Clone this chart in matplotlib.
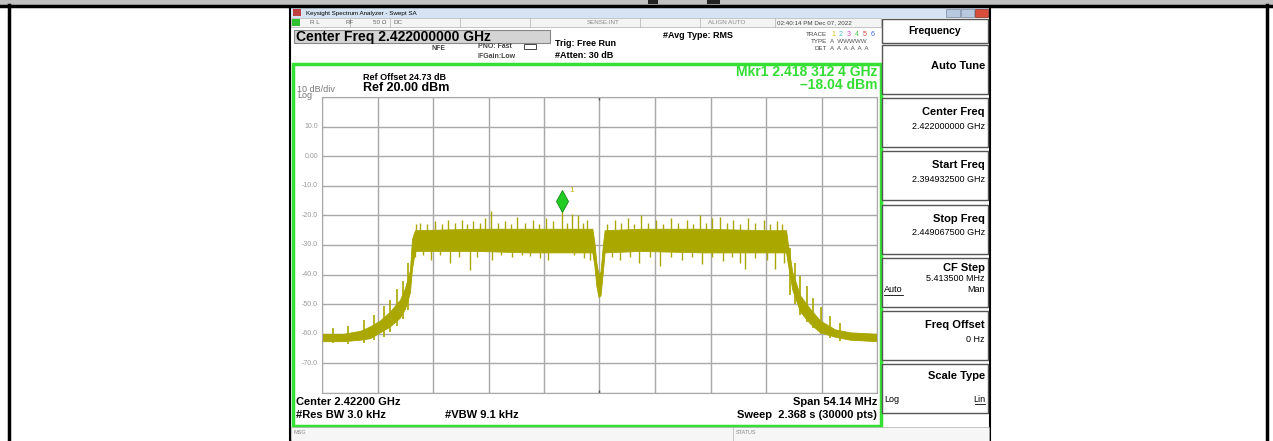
import matplotlib.pyplot as plt
from matplotlib.patches import Rectangle

plt.rcParams['font.family'] = ['Liberation Sans', 'DejaVu Sans']

# trace envelope (GHz, dBm)
env_freq = [2.39493, 2.39700, 2.39864, 2.39961, 2.40059, 2.40156, 2.40254, 2.40303,
            2.40351, 2.40371, 2.40400, 2.41000, 2.41500, 2.42130, 2.42150, 2.42170,
            2.42190, 2.42210, 2.42230, 2.42250, 2.42600, 2.43200, 2.43800, 2.44020,
            2.44035, 2.44080, 2.44156, 2.44253, 2.44351, 2.44497, 2.44644, 2.44907]
env_low = [-62.5, -62.5, -62, -61.5, -59.5, -57.5, -54.5, -51.5,
           -46, -38, -32, -32, -32.5, -32.5, -37, -44,
           -47.5, -47, -40, -32.5, -32, -32.5, -32.5, -32.5,
           -36, -45, -52.5, -56.5, -59.5, -61, -62, -62.5]
env_high = [-60, -60, -59, -57.5, -55.5, -52.5, -48.5, -44.5,
            -38.5, -28, -25, -24.5, -24.5, -24.5, -29, -36,
            -40, -39, -31, -25, -24.5, -24.5, -25, -25,
            -29, -39, -47, -51.5, -55.5, -58.5, -59.5, -60]

# noise spikes above / below the band
up_freq = [2.4041, 2.4045, 2.4052, 2.4060, 2.4066, 2.4072, 2.4079, 2.4086, 2.4091, 2.4097,
           2.4103, 2.4108, 2.4114, 2.4121, 2.4128, 2.4134, 2.4140, 2.4147, 2.4155, 2.4161,
           2.4168, 2.4175, 2.41831, 2.4188, 2.4193, 2.4199, 2.4204, 2.4208, 2.4227, 2.4235,
           2.4241, 2.4248, 2.4254, 2.4260, 2.4267, 2.4275, 2.4282, 2.4290, 2.4297, 2.4305,
           2.4311, 2.4318, 2.4324, 2.4330, 2.4338, 2.4344, 2.4350, 2.4357, 2.4365, 2.4372,
           2.4380, 2.4386, 2.4393, 2.4398]
up_level = [-23, -22.5, -23, -22, -23, -21.5, -22.5, -21.5, -23, -22,
            -22.5, -20.9, -18.5, -22.5, -22, -23, -20.7, -22.5, -21.5, -23,
            -21, -22, -18.04, -22.5, -19.5, -20, -22.5, -21.5, -23, -21.5,
            -22.5, -21, -23, -20, -22.5, -21.5, -23, -21, -22.5, -21.5,
            -23, -20, -22.5, -21, -20.5, -22.5, -21.5, -23, -21, -22.5,
            -21.5, -23, -22, -23]
dn_freq = [2.4040, 2.4048, 2.4056, 2.4064, 2.4074, 2.4083, 2.4094, 2.4101, 2.4115, 2.4124,
           2.4135, 2.4144, 2.4152, 2.4162, 2.4170, 2.4183, 2.4195, 2.4205, 2.4211, 2.4232,
           2.4240, 2.4250, 2.4259, 2.4269, 2.4279, 2.4290, 2.4300, 2.4310, 2.4320, 2.4330,
           2.4340, 2.4349, 2.4357, 2.4362, 2.4372, 2.4383, 2.4391, 2.4400]
dn_level = [-34, -33.5, -35, -33.5, -36, -34, -38.4, -34, -35, -33.5,
            -34, -33.5, -33.8, -34.5, -35, -32, -33.5, -34.5, -35, -34,
            -35, -34, -36, -34, -37, -34, -35, -34, -36.5, -34,
            -35.5, -34, -36, -38, -34.5, -35, -38, -36]

# ragged edges on the skirts (GHz, top, bottom)
sk_freq = [2.3960, 2.3975, 2.3990, 2.4000, 2.4010, 2.4016, 2.4022, 2.4028, 2.4033,
           2.4406, 2.4411, 2.4416, 2.4422, 2.4428, 2.4436, 2.4445, 2.4455]
sk_top = [-58, -57.5, -55.5, -53.5, -50.5, -48.5, -45, -42, -36,
          -31, -36, -40.5, -44, -48, -51, -54, -56.5]
sk_bot = [-63, -63.5, -63, -62, -61, -59.5, -57.5, -55, -52,
          -47, -50, -53.5, -56, -58, -60, -61.5, -62.5]

mkr_freq = 2.4183124
mkr_level = -18.04

ref_level = 20
y_ticks = [10, 0, -10, -20, -30, -40, -50, -60, -70]
y_tick_labels = ['10.0', '0.00', '-10.0', '-20.0', '-30.0', '-40.0', '-50.0', '-60.0', '-70.0']
f_start, f_stop = 2.3949325, 2.4490675

softkeys = [('Auto Tune', None), ('Center Freq', '2.422000000 GHz'),
            ('Start Freq', '2.394932500 GHz'), ('Stop Freq', '2.449067500 GHz'),
            ('CF Step', '5.413500 MHz'), ('Freq Offset', '0 Hz'), ('Scale Type', None)]

W, H = 1273, 441
fig = plt.figure(figsize=(W / 100, H / 100), dpi=100)
bg = fig.add_axes([0, 0, 1, 1])
bg.set_xlim(0, W)
bg.set_ylim(H, 0)
bg.axis('off')


def rect(x0, y0, x1, y1, fc='none', ec='none', lw=1.0, z=1):
    bg.add_patch(Rectangle((x0, y0), x1 - x0, y1 - y0, facecolor=fc, edgecolor=ec, linewidth=lw, zorder=z))


def txt(x, y, s, size=7, weight='normal', color='black', ha='left', va='center'):
    bg.text(x, y, s, fontsize=size, fontweight=weight, color=color, ha=ha, va=va, zorder=5)


# page frame
rect(0, 0, W, 5, fc='#c0c0c0')
bg.plot([0, W], [5.5, 5.5], color='black', lw=2.5)
bg.plot([8.5, 8.5], [5, H], color='black', lw=2.5)
bg.plot([1266.5, 1266.5], [5, H], color='black', lw=2.5)
rect(648, 0, 658, 4, fc='#222222')
rect(707, 0, 720, 4, fc='#222222')

# instrument screen
rect(290, 7, 990, H, fc='white', ec='black', lw=1.5)
rect(291, 8, 989, 18, fc='#d6e3f3')
rect(293, 9, 301, 16, fc='#c04040')
txt(306, 13, 'Keysight Spectrum Analyzer - Swept SA', size=4.5)
rect(946, 9, 960, 17, fc='#b8c8de', ec='#7a8aa0', lw=0.5)
rect(961, 9, 974, 17, fc='#b8c8de', ec='#7a8aa0', lw=0.5)
rect(975, 9, 988, 17, fc='#d84c3c', ec='#8a3020', lw=0.5)
rect(291, 18, 881, 27, fc='#f4f4f4', ec='#b0b0b0', lw=0.5)
rect(292, 19, 300, 26, fc='#30c030')
for xd in [350, 390, 460, 530, 640, 700, 775]:
    bg.plot([xd, xd], [18, 27], color='#b0b0b0', lw=0.5)
txt(310, 22.5, 'R L', size=4.5, color='#666666')
txt(345, 22.5, 'RF', size=4.5, color='#666666')
txt(373, 22.5, '50 Ω', size=4.5, color='#666666')
txt(394, 22.5, 'DC', size=4.5, color='#666666')
txt(587, 22.5, 'SENSE:INT', size=4.5, color='#888888')
txt(708, 22.5, 'ALIGN AUTO', size=4.5, color='#888888')
txt(777, 22.5, '02:40:14 PM Dec 07, 2022', size=4.5, color='#444444')

rect(294, 30, 550, 43, fc='#d4d4d4', ec='#888888', lw=0.8)
txt(296, 36.5, 'Center Freq 2.422000000 GHz', size=10, weight='bold')
txt(432, 48, 'NFE', size=5, weight='bold', color='#444444')
txt(478, 47, 'PNO: Fast', size=5, weight='bold', color='#444444')
rect(524, 44, 536, 49, ec='#444444', lw=0.7)
txt(477, 57, 'IFGain:Low', size=5, weight='bold', color='#444444')
txt(555, 44, 'Trig: Free Run', size=6.5, weight='bold')
txt(555, 55, '#Atten: 30 dB', size=6.5, weight='bold')
txt(663, 35, '#Avg Type: RMS', size=6.5, weight='bold')
txt(827, 34, 'TRACE', size=4.5, color='#444444', ha='right')
txt(827, 41.5, 'TYPE', size=4.5, color='#444444', ha='right')
txt(827, 49, 'DET', size=4.5, color='#444444', ha='right')
trace_cols = ['#e0c000', '#40c0c0', '#d040d0', '#40c040', '#e04040', '#4060e0']
for i, c in enumerate(trace_cols):
    txt(831 + i * 8, 34, str(i + 1), size=5, color=c)
txt(830, 41.5, 'A  WWWWW', size=4.5, color='#555555')
txt(830, 49, 'A  A  A  A  A  A', size=4.5, color='#555555')

# green trace window frame
rect(292.5, 63.5, 880.5, 425.5, ec='#33e033', lw=2.5)
txt(363, 77, 'Ref Offset 24.73 dB', size=6.5, weight='bold')
txt(363, 88, 'Ref 20.00 dBm', size=9, weight='bold')
txt(297, 89, '10 dB/div', size=6.5, color='#777777')
txt(297, 96, 'Log', size=6.5, color='#777777')
txt(877, 72, 'Mkr1 2.418 312 4 GHz', size=10, weight='bold', color='#33dd33', ha='right')
txt(877, 85, '\u201318.04 dBm', size=10, weight='bold', color='#33dd33', ha='right')
txt(296, 402, 'Center 2.42200 GHz', size=8, weight='bold')
txt(296, 415, '#Res BW 3.0 kHz', size=8, weight='bold')
txt(445, 415, '#VBW 9.1 kHz', size=8, weight='bold')
txt(877, 402, 'Span 54.14 MHz', size=8, weight='bold', ha='right')
txt(877, 415, 'Sweep  2.368 s (30000 pts)', size=8, weight='bold', ha='right')

for yt, lab in zip(y_ticks, y_tick_labels):
    ypx = 97 + (ref_level - yt) / 10 * 29.6
    txt(318, ypx, lab, size=5, color='#999999', ha='right')

# message bar
rect(291, 427, 989, H, fc='#f6f6f6', ec='#b0b0b0', lw=0.5)
bg.plot([733, 733], [427, H], color='#b0b0b0', lw=0.5)
txt(294, 433, 'MSG', size=4, color='#888888')
txt(736, 433, 'STATUS', size=4, color='#888888')

# softkey panel
rect(882, 19, 988, 43, fc='white', ec='#555555', lw=1)
txt(935, 31, 'Frequency', size=7.5, weight='bold', ha='center')
for i, (title, val) in enumerate(softkeys):
    top = 45 + i * 53.2
    rect(882, top, 988, top + 49, fc='white', ec='#555555', lw=1)
    if title == 'Auto Tune':
        txt(985, top + 21, title, size=8, weight='bold', ha='right')
    elif title == 'Scale Type':
        txt(985, top + 12, title, size=8, weight='bold', ha='right')
        txt(884, top + 35, 'Log', size=6.5)
        txt(985, top + 35, 'Lin', size=6.5, ha='right')
        bg.plot([975, 985], [top + 40, top + 40], color='black', lw=0.6)
    elif title == 'CF Step':
        txt(985, top + 10, title, size=8, weight='bold', ha='right')
        txt(985, top + 21, val, size=6.5, ha='right')
        txt(884, top + 32, 'Auto', size=6.5)
        bg.plot([884, 903], [top + 37, top + 37], color='black', lw=0.6)
        txt(985, top + 32, 'Man', size=6.5, ha='right')
    else:
        txt(985, top + 14, title, size=8, weight='bold', ha='right')
        txt(985, top + 28, val, size=6.5, ha='right')

# spectrum display
ax = fig.add_axes([322 / W, 1 - 393 / H, 555 / W, 296 / H])
ax.set_xlim(f_start, f_stop)
ax.set_ylim(-80, 20)
ax.set_xticks([f_start + i * (f_stop - f_start) / 10 for i in range(11)])
ax.set_yticks(range(-80, 21, 10))
ax.grid(True, color='#a8a8a8', lw=1)
ax.tick_params(length=0, labelbottom=False, labelleft=False)
for s in ax.spines.values():
    s.set_color('#a8a8a8')
ax.set_axisbelow(True)

trace_col = '#aaa700'
ax.fill_between(env_freq, env_low, env_high, color=trace_col, lw=0.6, edgecolor=trace_col)
ax.vlines(up_freq, [-26] * len(up_freq), up_level, color=trace_col, lw=1.0)
ax.vlines(dn_freq, dn_level, [-30] * len(dn_freq), color=trace_col, lw=1.0)
ax.vlines(sk_freq, sk_bot, sk_top, color=trace_col, lw=1.2)
ax.plot([(f_start + f_stop) / 2] * 2, [19.5, -79.5], ls='none', marker='|', color='#555555', ms=3)
ax.plot(mkr_freq, mkr_level + 2.8, marker='d', ms=11, color='#22cc22', mec='#118811', mew=0.6)
ax.text(mkr_freq + 0.0007, mkr_level + 6, '1', color='#c8b000', fontsize=6)

fig.savefig('out.png', dpi=100)
